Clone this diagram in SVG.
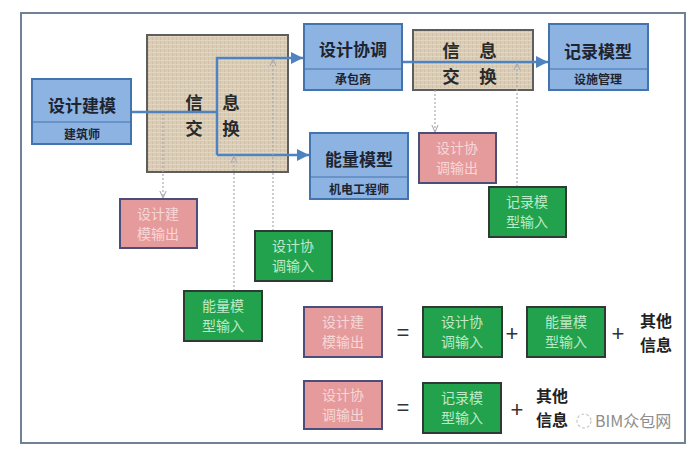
<svg xmlns="http://www.w3.org/2000/svg" width="700" height="455" viewBox="0 0 700 455">
<defs>
<style>
.cjk{font-family:"Noto Sans CJK SC","Noto Sans",sans-serif}
.blue{fill:#8db3e2;stroke:#4474ad;stroke-width:2}
.div{stroke:#4474ad;stroke-width:1.2}
.title{font-size:17px;font-weight:bold;fill:#1e2430;text-anchor:middle}
.sub{font-size:12px;font-weight:bold;fill:#1e2430;text-anchor:middle}
.xch{fill:url(#tex);stroke:#5e5e5e;stroke-width:2}
.xt{font-size:17.5px;font-weight:bold;fill:#2a2a2a;text-anchor:middle}
.pink{fill:#e59b9b;stroke:#4a4e78;stroke-width:2}
.green{fill:#22a24c;stroke:#2f3a34;stroke-width:2}
.pt{font-size:14px;fill:#f7d7d7;text-anchor:middle}
.gt{font-size:14px;fill:#bfe9c8;text-anchor:middle}
.flow{fill:none;stroke:#4f83bf;stroke-width:2.5}
.dot{fill:none;stroke:#a9a9b3;stroke-width:1.2;stroke-dasharray:2 2}
.op{font-size:22px;fill:#333;text-anchor:middle;font-family:"Liberation Sans",sans-serif}
.oth{font-size:16px;font-weight:bold;fill:#222}
</style>
<pattern id="tex" width="4" height="4" patternUnits="userSpaceOnUse">
<rect width="4" height="4" fill="#dacdb6"/>
<rect width="1" height="4" fill="#cfc0a6"/>
<rect width="4" height="1" fill="#e2d6c2"/>
</pattern>
<marker id="ab" viewBox="0 0 10 10" refX="10" refY="5" markerWidth="5" markerHeight="5" orient="auto">
<path d="M0,0 L10,5 L0,10 z" fill="#4f83bf"/>
</marker>
<marker id="ag" viewBox="0 0 10 10" refX="9" refY="5" markerWidth="8" markerHeight="8" orient="auto" markerUnits="userSpaceOnUse">
<path d="M0,1 L9,5 L0,9" fill="none" stroke="#a9a9b3" stroke-width="1.3"/>
</marker>
</defs>
<rect x="0" y="0" width="700" height="455" fill="#ffffff"/>
<rect x="21" y="13" width="664" height="430" fill="#ffffff" stroke="#6f8196" stroke-width="2"/>

<g id="xchange1">
<rect class="xch" x="147" y="35" width="141" height="137"/>
<text class="xt cjk" x="194" y="109">信</text>
<text class="xt cjk" x="231" y="109">息</text>
<text class="xt cjk" x="194" y="134.5">交</text>
<text class="xt cjk" x="231" y="134.5">换</text>
</g>
<g id="xchange2">
<rect class="xch" x="413" y="30" width="120" height="60"/>
<text class="xt cjk" x="451" y="57">信</text>
<text class="xt cjk" x="488" y="57">息</text>
<text class="xt cjk" x="451" y="82.5">交</text>
<text class="xt cjk" x="488" y="82.5">换</text>
</g>

<g id="connectors">
<path class="flow" d="M131,112 H217"/>
<path class="flow" d="M217,155 V58 H303" marker-end="url(#ab)"/>
<path class="flow" d="M217,155 H309" marker-end="url(#ab)"/>
<path class="flow" d="M402,62 H548" marker-end="url(#ab)"/>
<path class="dot" d="M163,114 V198" marker-end="url(#ag)"/>
<path class="dot" d="M234,291 V156" marker-end="url(#ag)"/>
<path class="dot" d="M273,231 V59" marker-end="url(#ag)"/>
<path class="dot" d="M435,90 V132" marker-end="url(#ag)"/>
<path class="dot" d="M517,187 V63" marker-end="url(#ag)"/>
</g>

<g id="design-model">
<rect class="blue" x="32" y="79" width="99" height="65"/>
<line class="div" x1="32" y1="122" x2="131" y2="122"/>
<text class="title cjk" x="82" y="112">设计建模</text>
<text class="sub cjk" x="82" y="139">建筑师</text>
</g>
<g id="design-coord">
<rect class="blue" x="304" y="24" width="98" height="66"/>
<line class="div" x1="304" y1="69" x2="402" y2="69"/>
<text class="title cjk" x="353" y="56">设计协调</text>
<text class="sub cjk" x="353" y="84">承包商</text>
</g>
<g id="energy-model">
<rect class="blue" x="310" y="133" width="98" height="66"/>
<line class="div" x1="310" y1="177" x2="408" y2="177"/>
<text class="title cjk" x="359" y="166">能量模型</text>
<text class="sub cjk" x="359" y="194">机电工程师</text>
</g>
<g id="record-model">
<rect class="blue" x="549" y="24" width="99" height="66"/>
<line class="div" x1="549" y1="69" x2="648" y2="69"/>
<text class="title cjk" x="598" y="58">记录模型</text>
<text class="sub cjk" x="598" y="84">设施管理</text>
</g>

<g id="out-design-model">
<rect class="pink" x="120" y="199" width="77" height="49"/>
<text class="pt cjk" x="158" y="219">设计建</text>
<text class="pt cjk" x="158" y="239">模输出</text>
</g>
<g id="out-coord">
<rect class="pink" x="419" y="133" width="77" height="50"/>
<text class="pt cjk" x="457" y="153">设计协</text>
<text class="pt cjk" x="457" y="173">调输出</text>
</g>
<g id="in-coord">
<rect class="green" x="255" y="231" width="77" height="50"/>
<text class="gt cjk" x="293" y="251">设计协</text>
<text class="gt cjk" x="293" y="271">调输入</text>
</g>
<g id="in-energy">
<rect class="green" x="184" y="291" width="78" height="50"/>
<text class="gt cjk" x="223" y="311">能量模</text>
<text class="gt cjk" x="223" y="331">型输入</text>
</g>
<g id="in-record">
<rect class="green" x="489" y="187" width="77" height="50"/>
<text class="gt cjk" x="527" y="207">记录模</text>
<text class="gt cjk" x="527" y="227">型输入</text>
</g>

<g id="eq1">
<rect class="pink" x="304" y="307" width="78" height="50"/>
<text class="pt cjk" x="343" y="327">设计建</text>
<text class="pt cjk" x="343" y="347">模输出</text>
<text class="op" x="403" y="340">=</text>
<rect class="green" x="423" y="307" width="79" height="50"/>
<text class="gt cjk" x="462" y="327">设计协</text>
<text class="gt cjk" x="462" y="347">调输入</text>
<text class="op" x="512" y="341">+</text>
<rect class="green" x="527" y="307" width="78" height="50"/>
<text class="gt cjk" x="566" y="327">能量模</text>
<text class="gt cjk" x="566" y="347">型输入</text>
<text class="op" x="618" y="341">+</text>
<text class="oth cjk" x="640" y="327">其他</text>
<text class="oth cjk" x="640" y="351">信息</text>
</g>
<g id="eq2">
<rect class="pink" x="304" y="381" width="78" height="48"/>
<text class="pt cjk" x="343" y="400">设计协</text>
<text class="pt cjk" x="343" y="420">调输出</text>
<text class="op" x="403" y="415">=</text>
<rect class="green" x="423" y="383" width="78" height="50"/>
<text class="gt cjk" x="462" y="403">记录模</text>
<text class="gt cjk" x="462" y="423">型输入</text>
<text class="op" x="517" y="417">+</text>
<text class="oth cjk" x="536" y="402">其他</text>
<text class="oth cjk" x="536" y="426">信息</text>
</g>
<g id="watermark">
<circle cx="584" cy="421" r="7" fill="none" stroke="#c8c8c8" stroke-width="1.2" stroke-dasharray="3 2"/>
<text x="595" y="427" font-size="16" fill="#8d8d8d" font-family="Noto Sans CJK SC, Liberation Sans, sans-serif">BIM众包网</text>
</g>
</svg>
